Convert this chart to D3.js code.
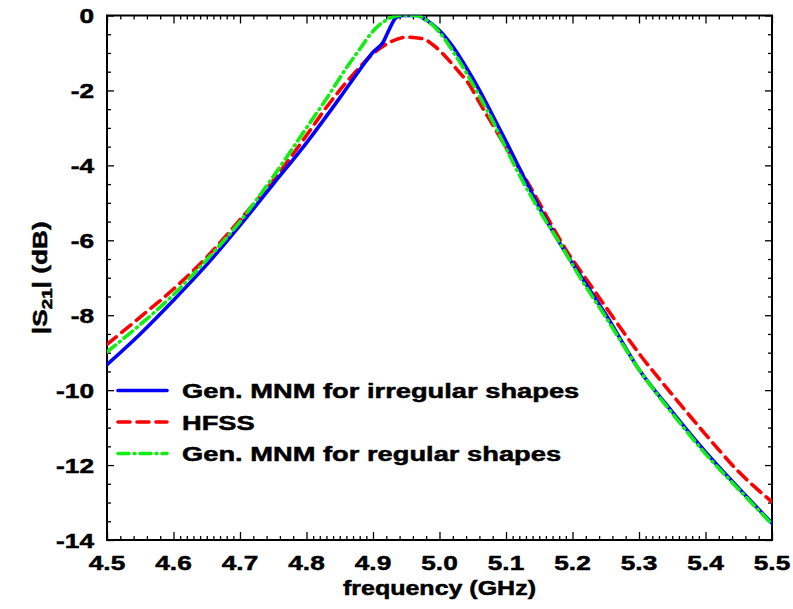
<!DOCTYPE html>
<html>
<head>
<meta charset="utf-8">
<script src="https://cdn.jsdelivr.net/npm/d3@7"></script>
<style>
  body { margin: 0; background: #fff; }
  svg { display: block; }
  text { font-family: "Liberation Sans", Arial, sans-serif; font-weight: bold; fill: #000; stroke: #000; stroke-width: 0.5; }
</style>
</head>
<body>
<svg id="chart" width="793" height="609"></svg>
<script>
// values (frequency in GHz, |S21| in dB)
var freqIrregular = [4.50,4.55,4.60,4.65,4.70,4.75,4.80,4.85,4.88,4.90,4.915,4.925,4.935,4.945,4.965,4.98,5.00,5.02,5.04,5.06,5.08,5.10,5.12,5.15,5.18,5.20,5.22,5.25,5.30,5.35,5.40,5.45,5.50];
var s21Irregular  = [-9.32,-8.50,-7.60,-6.65,-5.60,-4.50,-3.40,-2.20,-1.45,-0.98,-0.72,-0.35,-0.05,0,0,-0.12,-0.40,-0.83,-1.38,-1.99,-2.67,-3.36,-4.07,-5.12,-6.05,-6.62,-7.16,-7.98,-9.45,-10.58,-11.65,-12.62,-13.55];

var freqHfss = [4.50,4.55,4.60,4.65,4.70,4.75,4.80,4.83,4.86,4.88,4.90,4.925,4.95,4.975,4.99,5.005,5.025,5.045,5.06,5.08,5.10,5.13,5.16,5.19,5.22,5.25,5.30,5.35,5.40,5.45,5.50];
var s21Hfss  = [-8.78,-8.05,-7.30,-6.45,-5.45,-4.40,-3.20,-2.45,-1.78,-1.38,-1.02,-0.72,-0.58,-0.62,-0.78,-1.02,-1.42,-1.85,-2.32,-2.92,-3.52,-4.38,-5.32,-6.25,-7.02,-7.78,-9.02,-10.12,-11.18,-12.18,-12.98];

var freqRegular = [4.50,4.55,4.60,4.65,4.70,4.75,4.80,4.83,4.86,4.88,4.90,4.92,4.94,4.965,4.98,5.00,5.02,5.04,5.06,5.08,5.10,5.12,5.15,5.18,5.21,5.25,5.30,5.35,5.40,5.45,5.50];
var s21Regular  = [-8.98,-8.25,-7.45,-6.52,-5.50,-4.30,-3.00,-2.22,-1.40,-0.90,-0.42,-0.12,0,0,-0.12,-0.45,-0.95,-1.52,-2.15,-2.82,-3.55,-4.25,-5.20,-6.05,-6.95,-8.05,-9.45,-10.62,-11.70,-12.65,-13.58];

var seriesNames = ["Gen. MNM for irregular shapes", "HFSS", "Gen. MNM for regular shapes"];

var xMajorTicks = [4.5,4.6,4.7,4.8,4.9,5.0,5.1,5.2,5.3,5.4,5.5];
var xDenseStarts = [4.6,4.8,5.1,5.3];   // intervals with 0.01 minor ticks, the rest use 0.02
var yMajorTicks = [0,-2,-4,-6,-8,-10,-12,-14];

const svg = d3.select("#chart"),
  margin = {top: 15.5, right: 21, bottom: 69, left: 107},
  width = +svg.attr("width") - margin.left - margin.right,
  height = +svg.attr("height") - margin.top - margin.bottom,
  x = d3.scaleLinear().domain([4.5, 5.5]).range([0, width]),
  y = d3.scaleLinear().domain([-14, 0]).range([height, 0]),
  g = svg.append("g").attr("transform", `translate(${margin.left},${margin.top})`);

const sx = 1.25; // the original lettering is stretched sideways

// minor tick values
var xMinor = [];
xMajorTicks.slice(0, -1).forEach(function(t){
  var dense = xDenseStarts.some(d => Math.abs(d - t) < 1e-6);
  var step = dense ? 0.01 : 0.02;
  for (var v = t + step; v < t + 0.1 - 1e-6; v += step) xMinor.push(+v.toFixed(3));
});
var yMinor = d3.range(0, -14.01, -0.5).filter(v => v % 2 !== 0);

function tickAxis(axis, vals, size){
  return axis.tickValues(vals).tickSize(size).tickFormat("");
}

g.append("defs").append("clipPath").attr("id", "clip")
  .append("rect").attr("width", width).attr("height", height);

// ticks on all four sides, pointing inward
g.append("g").attr("transform", `translate(0,${height})`).call(tickAxis(d3.axisBottom(x), xMajorTicks, -8));
g.append("g").attr("transform", `translate(0,${height})`).call(tickAxis(d3.axisBottom(x), xMinor, -4));
g.append("g").call(tickAxis(d3.axisTop(x), xMajorTicks, -8));
g.append("g").call(tickAxis(d3.axisTop(x), xMinor, -4));
g.append("g").call(tickAxis(d3.axisLeft(y), yMajorTicks, -7));
g.append("g").call(tickAxis(d3.axisLeft(y), yMinor, -4));
g.append("g").attr("transform", `translate(${width},0)`).call(tickAxis(d3.axisRight(y), yMajorTicks, -7));
g.append("g").attr("transform", `translate(${width},0)`).call(tickAxis(d3.axisRight(y), yMinor, -4));
g.selectAll(".domain").remove();
g.selectAll(".tick line").attr("stroke", "#000").attr("stroke-width", 1.3);

g.append("rect").attr("width", width).attr("height", height)
  .attr("fill", "none").attr("stroke", "#000").attr("stroke-width", 2);

// tick labels
g.selectAll(".xlab").data(xMajorTicks).enter().append("text")
  .attr("transform", d => `translate(${x(d)},${height + 30}) scale(${sx},1)`)
  .attr("text-anchor", "middle").attr("font-size", 21)
  .text(d => d3.format(".1f")(d));

g.selectAll(".ylab").data(yMajorTicks).enter().append("text")
  .attr("transform", d => `translate(-13,${y(d) + 7.5}) scale(${sx},1)`)
  .attr("text-anchor", "end").attr("font-size", 21)
  .text(d => d === 0 ? "0" : "-" + Math.abs(d));

// axis titles
svg.append("text")
  .attr("transform", `translate(${margin.left + width / 2},${595}) scale(${sx},1)`)
  .attr("text-anchor", "middle").attr("font-size", 20)
  .text("frequency (GHz)");

var yt = svg.append("text")
  .attr("transform", `translate(47,${margin.top + height / 2}) rotate(-90) scale(${sx},1)`)
  .attr("text-anchor", "middle").attr("font-size", 21);
yt.append("tspan").text("|S");
yt.append("tspan").attr("font-size", 15).attr("dy", 5).text("21");
yt.append("tspan").attr("dy", -5).text("| (dB)");

// curves
const line = d3.line().x(d => x(d[0])).y(d => y(d[1])).curve(d3.curveMonotoneX);
const curves = [
  {f: freqIrregular, v: s21Irregular, color: "#0000ff", dash: null},
  {f: freqHfss, v: s21Hfss, color: "#ff0000", dash: "12,7"},
  {f: freqRegular, v: s21Regular, color: "#11ee11", dash: "11,5,1,5"}
];

const plot = g.append("g").attr("clip-path", "url(#clip)");
// HFSS at the back, then irregular, regular dash-dot on top
[1, 0, 2].forEach(function(i){
  var c = curves[i];
  plot.append("path")
    .datum(d3.zip(c.f, c.v))
    .attr("fill", "none")
    .attr("stroke", c.color)
    .attr("stroke-width", 3.6)
    .attr("stroke-linecap", "round")
    .attr("stroke-dasharray", c.dash)
    .attr("d", line);
});

// legend
const legend = g.append("g").attr("transform", `translate(11,375)`);
curves.forEach(function(c, i){
  var row = legend.append("g").attr("transform", `translate(0,${i * 31.5})`);
  row.append("line").attr("x1", 0).attr("x2", 49).attr("y1", 0).attr("y2", 0)
    .attr("stroke", c.color).attr("stroke-width", 3.6)
    .attr("stroke-linecap", "round").attr("stroke-dasharray", c.dash);
  row.append("text")
    .attr("transform", `translate(64,7.5) scale(1.3,1)`)
    .attr("font-size", 21)
    .text(seriesNames[i]);
});
</script>
</body>
</html>
